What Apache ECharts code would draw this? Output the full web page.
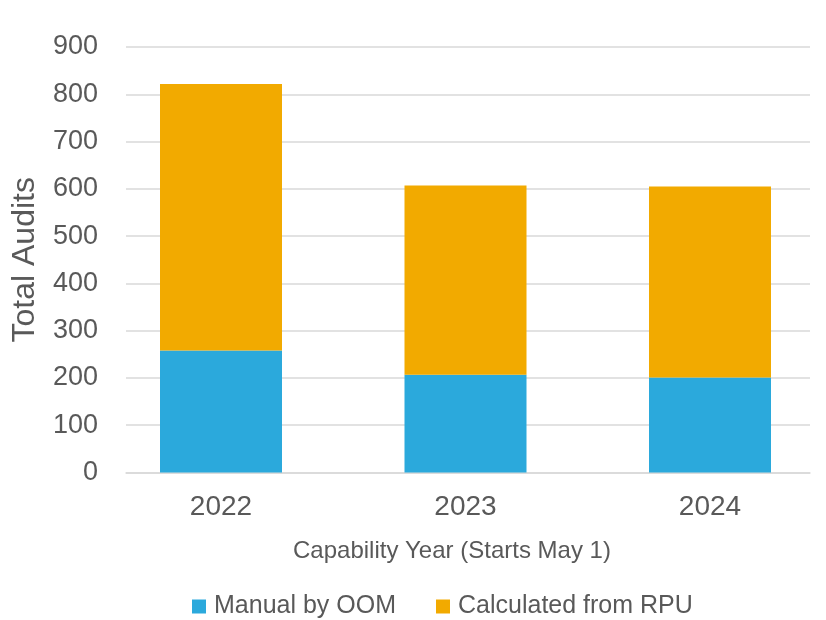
<!DOCTYPE html>
<html><head><meta charset="utf-8">
<script src="https://cdn.jsdelivr.net/npm/echarts@6/dist/echarts.min.js"></script>
<style>html,body{margin:0;padding:0;background:#fff}#c{width:826px;height:620px}</style>
</head><body><div id="c"></div>
<script>
const categories = ['2022', '2023', '2024'];
const manualByOOM = [258, 207, 201];
const calculatedFromRPU = [564, 400, 404];
const seriesNames = ['Manual by OOM', 'Calculated from RPU'];
const yTicks = { min: 0, max: 900, interval: 100 };

const FONT = 'Liberation Sans, Arial, sans-serif';
const TXT = '#595959';
const chart = echarts.init(document.getElementById('c'), null, { renderer: 'canvas' });
chart.setOption({
  animation: false,
  textStyle: { fontFamily: FONT },
  title: {
    text: 'Capability Year (Starts May 1)',
    left: 288, top: 534,
    textStyle: { fontSize: 24, fontWeight: 'normal', color: TXT, fontFamily: FONT }
  },
  legend: {
    data: seriesNames,
    left: 187, top: 589,
    itemWidth: 14, itemHeight: 14, itemGap: 40,
    icon: 'rect',
    textStyle: { fontSize: 25, color: TXT, fontFamily: FONT, padding: [0, 0, 0, 3] }
  },
  grid: [
    { left: 98.75, width: 733.5, top: 47, height: 425.5, containLabel: false, outerBoundsMode: 'none' },
    { left: 126, width: 684, top: 47, height: 425.5, containLabel: false, outerBoundsMode: 'none' }
  ],
  xAxis: [
    { type: 'category', gridIndex: 0, data: categories,
      axisLine: { show: false }, axisTick: { show: false },
      axisLabel: { fontSize: 28, color: TXT, margin: 21, fontFamily: FONT } },
    { type: 'category', gridIndex: 1, data: categories,
      axisLine: { show: true, lineStyle: { color: '#D9D9D9', width: 1.5 } },
      axisTick: { show: false }, axisLabel: { show: false } }
  ],
  yAxis: [
    { type: 'value', gridIndex: 0, min: yTicks.min, max: yTicks.max, interval: yTicks.interval, show: false,
      splitLine: { show: false } },
    { type: 'value', gridIndex: 1, min: yTicks.min, max: yTicks.max, interval: yTicks.interval,
      name: 'Total Audits', nameLocation: 'middle', nameGap: 85,
      nameTextStyle: { fontSize: 32, color: TXT, fontFamily: FONT },
      axisLine: { show: false }, axisTick: { show: false },
      axisLabel: { fontSize: 27, color: TXT, margin: 28, fontFamily: FONT },
      splitLine: { show: true, lineStyle: { color: '#D9D9D9', width: 1.5 } } }
  ],
  series: [
    { name: seriesNames[0], type: 'bar', stack: 'total', xAxisIndex: 0, yAxisIndex: 0,
      data: manualByOOM, barWidth: 122, itemStyle: { color: '#2BA9DC' } },
    { name: seriesNames[1], type: 'bar', stack: 'total', xAxisIndex: 0, yAxisIndex: 0,
      data: calculatedFromRPU, barWidth: 122, itemStyle: { color: '#F2AA00' } }
  ]
});
</script></body></html>
